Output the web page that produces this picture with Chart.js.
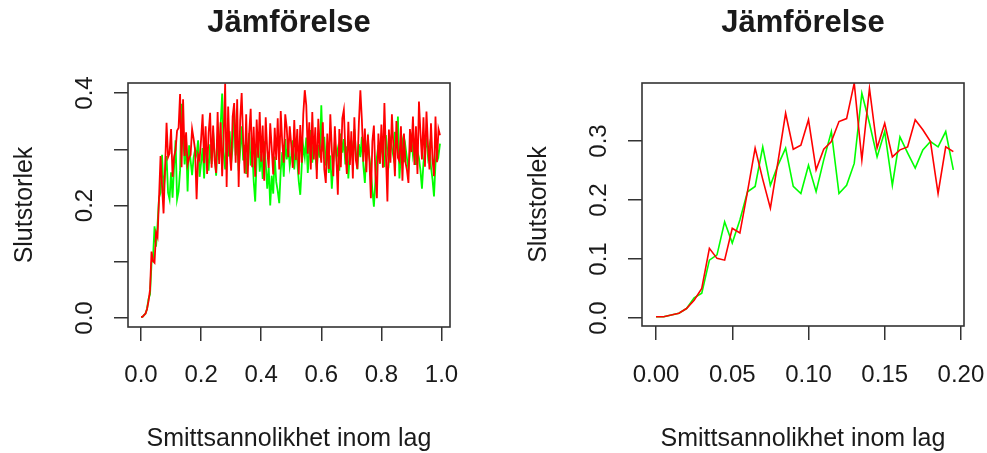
<!DOCTYPE html>
<html>
<head>
<meta charset="utf-8">
<script src="https://cdn.jsdelivr.net/npm/chart.js@4/dist/chart.umd.min.js"></script>
<style>
  html, body { margin: 0; padding: 0; background: #fff; }
  #wrap { position: relative; width: 987px; height: 453px; overflow: hidden; }
  canvas { position: absolute; top: 0; }
</style>
</head>
<body>
<div id="wrap">
  <canvas id="left" width="493" height="453" style="left:0px"></canvas>
  <canvas id="right" width="494" height="453" style="left:493px"></canvas>
</div>
<script>
// ---------- DATA ----------
const xAll = [
  0.000,0.005,0.010,0.015,0.020,0.025,0.030,0.035,0.040,0.045,
  0.050,0.055,0.060,0.065,0.070,0.075,0.080,0.085,0.090,0.095,
  0.100,0.105,0.110,0.115,0.120,0.125,0.130,0.135,0.140,0.145,
  0.150,0.155,0.160,0.165,0.170,0.175,0.180,0.185,0.190,0.195,
  0.200,0.205,0.210,0.215,0.220,0.225,0.230,0.235,0.240,0.245,
  0.250,0.255,0.260,0.265,0.270,0.275,0.280,0.285,0.290,0.295,
  0.300,0.305,0.310,0.315,0.320,0.325,0.330,0.335,0.340,0.345,
  0.350,0.355,0.360,0.365,0.370,0.375,0.380,0.385,0.390,0.395,
  0.400,0.405,0.410,0.415,0.420,0.425,0.430,0.435,0.440,0.445,
  0.450,0.455,0.460,0.465,0.470,0.475,0.480,0.485,0.490,0.495,
  0.500,0.505,0.510,0.515,0.520,0.525,0.530,0.535,0.540,0.545,
  0.550,0.555,0.560,0.565,0.570,0.575,0.580,0.585,0.590,0.595,
  0.600,0.605,0.610,0.615,0.620,0.625,0.630,0.635,0.640,0.645,
  0.650,0.655,0.660,0.665,0.670,0.675,0.680,0.685,0.690,0.695,
  0.700,0.705,0.710,0.715,0.720,0.725,0.730,0.735,0.740,0.745,
  0.750,0.755,0.760,0.765,0.770,0.775,0.780,0.785,0.790,0.795,
  0.800,0.805,0.810,0.815,0.820,0.825,0.830,0.835,0.840,0.845,
  0.850,0.855,0.860,0.865,0.870,0.875,0.880,0.885,0.890,0.895,
  0.900,0.905,0.910,0.915,0.920,0.925,0.930,0.935,0.940,0.945,
  0.950,0.955,0.960,0.965,0.970,0.975,0.980,0.985,0.990,0.995
];
const redAll = [
  0.002,0.002,0.005,0.008,0.016,0.030,0.050,0.118,0.101,0.098,
  0.152,0.144,0.214,0.288,0.235,0.186,0.265,0.347,0.286,0.293,
  0.336,0.251,0.286,0.299,0.333,0.338,0.398,0.268,0.389,0.288,
  0.330,0.273,0.285,0.290,0.336,0.319,0.299,0.211,0.290,0.282,
  0.318,0.362,0.275,0.341,0.256,0.329,0.365,0.267,0.342,0.281,
  0.258,0.366,0.274,0.348,0.252,0.322,0.417,0.233,0.376,0.295,
  0.262,0.358,0.382,0.276,0.389,0.233,0.351,0.400,0.315,0.257,
  0.362,0.250,0.329,0.372,0.268,0.340,0.251,0.353,0.285,0.366,
  0.278,0.342,0.244,0.357,0.299,0.267,0.346,0.302,0.255,0.338,
  0.281,0.355,0.264,0.368,0.312,0.276,0.362,0.338,0.286,0.341,
  0.308,0.267,0.352,0.281,0.336,0.255,0.343,0.276,0.362,0.405,
  0.378,0.292,0.348,0.264,0.366,0.282,0.339,0.247,0.354,0.302,
  0.276,0.348,0.264,0.240,0.328,0.265,0.362,0.299,0.252,0.341,
  0.287,0.219,0.336,0.268,0.355,0.370,0.298,0.256,0.349,0.272,
  0.332,0.248,0.357,0.281,0.265,0.346,0.405,0.353,0.278,0.337,
  0.259,0.326,0.281,0.213,0.314,0.342,0.256,0.213,0.328,0.275,
  0.344,0.267,0.382,0.291,0.207,0.335,0.276,0.362,0.304,0.252,
  0.350,0.285,0.279,0.341,0.244,0.328,0.277,0.263,0.240,0.336,
  0.295,0.358,0.272,0.341,0.256,0.385,0.329,0.282,0.357,0.269,
  0.367,0.308,0.264,0.346,0.283,0.252,0.358,0.277,0.336,0.325
];
const greenAll = [
  0.002,0.002,0.005,0.008,0.016,0.034,0.042,0.098,0.107,0.163,
  0.127,0.166,0.214,0.223,0.290,0.225,0.259,0.288,0.223,0.211,
  0.259,0.214,0.268,0.316,0.211,0.225,0.262,0.381,0.330,0.273,
  0.316,0.225,0.307,0.280,0.254,0.285,0.299,0.290,0.316,0.251,
  0.276,0.302,0.248,0.315,0.286,0.262,0.309,0.274,0.331,0.290,
  0.253,0.318,0.281,0.342,0.399,0.296,0.264,0.311,0.287,0.332,
  0.275,0.304,0.373,0.289,0.318,0.262,0.297,0.341,0.280,0.308,
  0.256,0.294,0.329,0.271,0.302,0.243,0.207,0.285,0.318,0.260,
  0.292,0.247,0.314,0.276,0.230,0.268,0.200,0.253,0.221,0.287,
  0.242,0.226,0.204,0.263,0.295,0.251,0.318,0.282,0.307,0.270,
  0.289,0.316,0.264,0.301,0.278,0.243,0.219,0.272,0.305,0.286,
  0.321,0.258,0.297,0.334,0.276,0.312,0.290,0.263,0.308,0.285,
  0.378,0.296,0.322,0.271,0.304,0.258,0.289,0.230,0.276,0.313,
  0.287,0.301,0.262,0.328,0.294,0.318,0.273,0.305,0.248,0.292,
  0.315,0.279,0.336,0.297,0.264,0.309,0.286,0.322,0.271,0.240,
  0.298,0.317,0.285,0.262,0.227,0.198,0.243,0.286,0.308,0.274,
  0.312,0.291,0.268,0.325,0.296,0.279,0.316,0.302,0.287,0.331,
  0.304,0.358,0.248,0.293,0.312,0.277,0.305,0.284,0.263,0.298,
  0.318,0.289,0.307,0.272,0.296,0.284,0.262,0.230,0.276,0.299,
  0.321,0.287,0.305,0.268,0.247,0.216,0.274,0.301,0.288,0.310
];
const xZoom = [
  0.000,0.005,0.010,0.015,0.020,0.025,0.030,0.035,0.040,0.045,
  0.050,0.055,0.060,0.065,0.070,0.075,0.080,0.085,0.090,0.095,
  0.100,0.105,0.110,0.115,0.120,0.125,0.130,0.135,0.140,0.145,
  0.150,0.155,0.160,0.165,0.170,0.175,0.180,0.185,0.190,0.195
];
const redZoom = [
  0.002,0.002,0.005,0.008,0.016,0.030,0.050,0.118,0.101,0.098,
  0.152,0.144,0.214,0.288,0.235,0.186,0.265,0.347,0.286,0.293,
  0.336,0.251,0.286,0.299,0.333,0.338,0.398,0.268,0.389,0.288,
  0.330,0.273,0.285,0.290,0.336,0.319,0.299,0.211,0.290,0.282
];
const greenZoom = [
  0.002,0.002,0.005,0.008,0.016,0.034,0.042,0.098,0.107,0.163,
  0.127,0.166,0.214,0.223,0.290,0.225,0.259,0.288,0.223,0.211,
  0.259,0.214,0.268,0.316,0.211,0.225,0.262,0.381,0.330,0.273,
  0.316,0.225,0.307,0.280,0.254,0.285,0.299,0.290,0.316,0.251
];
const titleText = "Jämförelse";
const xTitle = "Smittsannolikhet inom lag";
const yTitle = "Slutstorlek";
const xTicksLeft = [0, 0.2, 0.4, 0.6, 0.8, 1.0];
const xTickLabelsLeft = ["0.0", "0.2", "0.4", "0.6", "0.8", "1.0"];
const yTicksLeft = [0, 0.1, 0.2, 0.3, 0.4];
const yTickLabelsLeft = ["0.0", "", "0.2", "", "0.4"];
const xTicksRight = [0, 0.05, 0.10, 0.15, 0.20];
const xTickLabelsRight = ["0.00", "0.05", "0.10", "0.15", "0.20"];
const yTicksRight = [0, 0.1, 0.2, 0.3];
const yTickLabelsRight = ["0.0", "0.1", "0.2", "0.3"];

// ---------- DRAWING ----------
const FONT = "'Liberation Sans', Arial, Helvetica, sans-serif";
const TXT = "#1a1a1a";
const AX = "#333333";

const rPlot = {
  id: 'rPlot',
  afterDraw(chart) {
    const o = chart.options.plugins.rPlot;
    const { ctx, chartArea: a, scales: { x, y } } = chart;
    ctx.save();
    ctx.strokeStyle = AX;
    ctx.lineWidth = 1.6;
    ctx.strokeRect(a.left, a.top, a.right - a.left, a.bottom - a.top);
    ctx.fillStyle = TXT;
    const cx = (a.left + a.right) / 2;
    ctx.font = "bold 31px " + FONT;
    ctx.textAlign = "center";
    ctx.textBaseline = "alphabetic";
    ctx.fillText(o.title, cx, 32);
    ctx.font = "24px " + FONT;
    o.xTicks.forEach((v, i) => ctx.fillText(o.xLabels[i], x.getPixelForValue(v), 382));
    o.yTicks.forEach((v, i) => {
      if (!o.yLabels[i]) return;
      ctx.save();
      ctx.translate(a.left - 36, y.getPixelForValue(v));
      ctx.rotate(-Math.PI / 2);
      ctx.fillText(o.yLabels[i], 0, 0);
      ctx.restore();
    });
    ctx.font = "25px " + FONT;
    ctx.fillText(o.xTitle, cx, 446);
    ctx.save();
    ctx.translate(a.left - 96, (a.top + a.bottom) / 2);
    ctx.rotate(-Math.PI / 2);
    ctx.fillText(o.yTitle, 0, 0);
    ctx.restore();
    ctx.restore();
  }
};

function makeChart(id, xs, reds, greens, cfg) {
  const pts = (arr) => arr.map((v, i) => ({ x: xs[i], y: v }));
  return new Chart(document.getElementById(id), {
    type: 'line',
    data: {
      datasets: [
        { data: pts(reds), borderColor: '#ff0000', borderWidth: cfg.lw, pointRadius: 0, tension: 0, fill: false },
        { data: pts(greens), borderColor: '#00ff00', borderWidth: cfg.lw, pointRadius: 0, tension: 0, fill: false }
      ]
    },
    options: {
      responsive: false,
      animation: false,
      devicePixelRatio: 1,
      layout: { padding: { top: cfg.top, right: cfg.right, left: 0, bottom: 0 } },
      plugins: {
        legend: { display: false },
        title: { display: false },
        tooltip: { enabled: false },
        rPlot: cfg.labels
      },
      scales: {
        x: {
          type: 'linear',
          min: cfg.xMin, max: cfg.xMax,
          afterBuildTicks: (ax) => { ax.ticks = cfg.labels.xTicks.map(v => ({ value: v })); },
          afterFit: (ax) => { ax.height = cfg.xHeight; },
          ticks: { display: false },
          border: { display: false },
          grid: { display: true, drawOnChartArea: false, drawTicks: true, tickLength: 14, color: AX, lineWidth: 1.5 }
        },
        y: {
          type: 'linear',
          min: cfg.yMin, max: cfg.yMax,
          afterBuildTicks: (ax) => { ax.ticks = cfg.labels.yTicks.map(v => ({ value: v })); },
          afterFit: (ax) => { ax.width = cfg.yWidth; },
          ticks: { display: false },
          border: { display: false },
          grid: { display: true, drawOnChartArea: false, drawTicks: true, tickLength: 14, color: AX, lineWidth: 1.5 }
        }
      }
    },
    plugins: [rPlot]
  });
}

makeChart('left', xAll, redAll, greenAll, {
  top: 83, right: 43, xHeight: 126, yWidth: 128, lw: 1.8,
  xMin: -0.0433, xMax: 1.0283, yMin: -0.016, yMax: 0.4178,
  labels: { title: titleText, xTitle: xTitle, yTitle: yTitle,
    xTicks: xTicksLeft, xLabels: xTickLabelsLeft, yTicks: yTicksLeft, yLabels: yTickLabelsLeft }
});
makeChart('right', xZoom, redZoom, greenZoom, {
  top: 83, right: 23, xHeight: 127, yWidth: 149, lw: 1.6,
  xMin: -0.0092, xMax: 0.2020, yMin: -0.0136, yMax: 0.3983,
  labels: { title: titleText, xTitle: xTitle, yTitle: yTitle,
    xTicks: xTicksRight, xLabels: xTickLabelsRight, yTicks: yTicksRight, yLabels: yTickLabelsRight }
});
</script>
</body>
</html>
